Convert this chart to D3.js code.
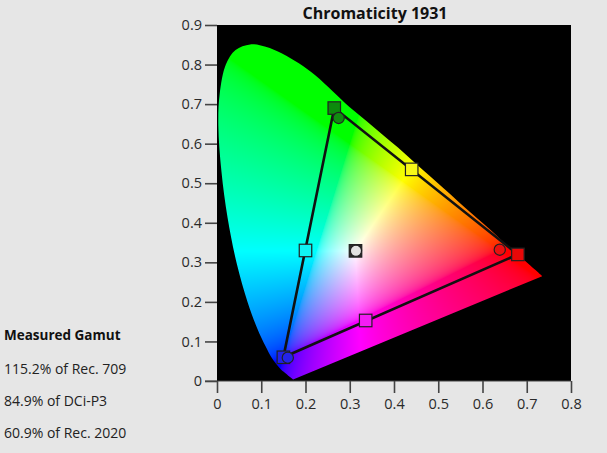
<!DOCTYPE html>
<html>
<head>
<meta charset="utf-8">
<script src="https://cdn.jsdelivr.net/npm/d3@7"></script>
<style>
  html, body { margin: 0; padding: 0; background: #e6e6e6; }
  svg { display: block; font-family: "Open Sans", "Noto Sans", sans-serif; }
</style>
</head>
<body>
<svg id="chart" width="607" height="453"></svg>
<script>
// ---------- data ----------
const chartTitle = "Chromaticity 1931";
const xTicks = [0, 0.1, 0.2, 0.3, 0.4, 0.5, 0.6, 0.7, 0.8];
const xTickLabels = ["0", "0.1", "0.2", "0.3", "0.4", "0.5", "0.6", "0.7", "0.8"];
const yTicks = [0, 0.1, 0.2, 0.3, 0.4, 0.5, 0.6, 0.7, 0.8, 0.9];
const yTickLabels = ["0", "0.1", "0.2", "0.3", "0.4", "0.5", "0.6", "0.7", "0.8", "0.9"];

// spectral locus (violet end -> red end)
const locusX = [0.172, 0.165, 0.157, 0.144, 0.124, 0.110, 0.091, 0.069, 0.045, 0.024, 0.010, 0.003, 0.006, 0.020, 0.042, 0.075, 0.110, 0.147, 0.185, 0.222, 0.262, 0.300, 0.337, 0.373, 0.409, 0.444, 0.479, 0.512, 0.545, 0.575, 0.603, 0.627, 0.648, 0.666, 0.692, 0.708, 0.719, 0.735];
const locusY = [0.004, 0.010, 0.018, 0.030, 0.058, 0.087, 0.133, 0.200, 0.295, 0.412, 0.530, 0.645, 0.725, 0.800, 0.837, 0.851, 0.845, 0.828, 0.803, 0.773, 0.732, 0.692, 0.658, 0.624, 0.590, 0.555, 0.520, 0.487, 0.454, 0.424, 0.397, 0.373, 0.351, 0.334, 0.308, 0.292, 0.281, 0.265];

// target (squares)
const targetNames = ["Red", "Green", "Blue", "Cyan", "Magenta", "Yellow", "White"];
const targetX = [0.680, 0.265, 0.150, 0.200, 0.336, 0.440, 0.313];
const targetY = [0.320, 0.690, 0.060, 0.330, 0.153, 0.535, 0.329];
// measured (circles)
const measuredNames = ["Red", "Green", "Blue", "White"];
const measuredX = [0.639, 0.275, 0.160, 0.314];
const measuredY = [0.332, 0.665, 0.059, 0.329];
// gamut triangle order
const triangleOrder = ["Green", "Blue", "Red"];

const gamutTitle = "Measured Gamut";
const gamutLines = ["115.2% of Rec. 709", "84.9% of DCi-P3", "60.9% of Rec. 2020"];

// ---------- styles ----------
const squareFill = { Red: "#e80808", Green: "#0c8a0c", Blue: "#2020e8", Cyan: "#10f4f4", Magenta: "#f41cf4", Yellow: "#f8f818", White: "#2a2a2a" };
const circleFill = { Red: "#ea1010", Green: "#108c10", Blue: "#2424ea", White: "#e2e2e2" };

// ---------- layout ----------
const svg = d3.select("#chart");
const x = d3.scaleLinear().domain([0, 0.8]).range([217, 571]);
const y = d3.scaleLinear().domain([0, 0.9]).range([381, 25]);

svg.append("rect").attr("width", 607).attr("height", 453).attr("fill", "#e6e6e6");

// plot background
svg.append("rect")
  .attr("x", x(0)).attr("y", y(0.9))
  .attr("width", x(0.8) - x(0)).attr("height", y(0) - y(0.9))
  .attr("fill", "#000");

// locus clip
const locus = locusX.map((v, i) => [v, locusY[i]]);
const locusLine = d3.line().x(d => x(d[0])).y(d => y(d[1])).curve(d3.curveCatmullRom.alpha(0.5));
const defs = svg.append("defs");
defs.append("clipPath").attr("id", "locusClip")
  .append("path").attr("d", locusLine(locus) + "Z");

// colour fill of the diagram (xy -> sRGB)
const W = Math.round(x(0.8) - x(0)), H = Math.round(y(0) - y(0.9));
const cv = document.createElement("canvas");
cv.width = W; cv.height = H;
const ctx = cv.getContext("2d");
const img = ctx.createImageData(W, H);
function gam(c) { return c <= 0.0031308 ? 12.92 * c : 1.055 * Math.pow(c, 1 / 2.4) - 0.055; }
for (let j = 0; j < H; j++) {
  const cy = y.invert(y(0.9) + j + 0.5);
  for (let i = 0; i < W; i++) {
    const cx = x.invert(x(0) + i + 0.5);
    let r = 0, g = 0, b = 0;
    if (cy > 0.0005) {
      const X = cx / cy, Y = 1, Z = (1 - cx - cy) / cy;
      r = 3.2406 * X - 1.5372 * Y - 0.4986 * Z;
      g = -0.9689 * X + 1.8758 * Y + 0.0415 * Z;
      b = 0.0557 * X - 0.2040 * Y + 1.0570 * Z;
      r = Math.max(r, 0); g = Math.max(g, 0); b = Math.max(b, 0);
      const m = Math.max(r, g, b) || 1;
      r /= m; g /= m; b /= m;
    }
    const k = (j * W + i) * 4;
    img.data[k] = Math.round(255 * gam(r));
    img.data[k + 1] = Math.round(255 * gam(g));
    img.data[k + 2] = Math.round(255 * gam(b));
    img.data[k + 3] = 255;
  }
}
ctx.putImageData(img, 0, 0);
svg.append("image")
  .attr("href", cv.toDataURL())
  .attr("x", x(0)).attr("y", y(0.9)).attr("width", W).attr("height", H)
  .attr("preserveAspectRatio", "none")
  .attr("clip-path", "url(#locusClip)");

// gamut triangle
const tri = triangleOrder.map(n => { const i = targetNames.indexOf(n); return [targetX[i], targetY[i]]; });
svg.append("path")
  .attr("d", d3.line().x(d => x(d[0])).y(d => y(d[1]))(tri) + "Z")
  .attr("fill", "none").attr("stroke", "#111").attr("stroke-width", 2.6).attr("stroke-linejoin", "miter");

// target squares
const sq = 12.5;
svg.append("g").selectAll("rect").data(targetNames).join("rect")
  .attr("x", (d, i) => x(targetX[i]) - sq / 2)
  .attr("y", (d, i) => y(targetY[i]) - sq / 2)
  .attr("width", sq).attr("height", sq)
  .attr("fill", d => squareFill[d])
  .attr("stroke", "#222").attr("stroke-width", 1.2);

// measured circles
svg.append("g").selectAll("circle").data(measuredNames).join("circle")
  .attr("cx", (d, i) => x(measuredX[i]))
  .attr("cy", (d, i) => y(measuredY[i]))
  .attr("r", 5.6)
  .attr("fill", d => circleFill[d])
  .attr("stroke", "#222").attr("stroke-width", 1.2);

// axes
const xAxis = d3.axisBottom(x).tickValues(xTicks).tickSize(12).tickPadding(6)
  .tickFormat((d, i) => xTickLabels[i]);
const yAxis = d3.axisLeft(y).tickValues(yTicks).tickSize(12).tickPadding(3)
  .tickFormat((d, i) => yTickLabels[i]);
const gx = svg.append("g").attr("transform", `translate(0,${y(0)})`).call(xAxis);
const gy = svg.append("g").attr("transform", `translate(${x(0)},0)`).call(yAxis);
[gx, gy].forEach(g => {
  g.select(".domain").remove();
  g.selectAll(".tick line").attr("stroke", "#444").attr("stroke-width", 1.6);
  g.selectAll(".tick text").attr("fill", "#2a2a2a").style("font-size", "14.5px")
    .style("font-family", "'Open Sans', 'Noto Sans', sans-serif");
});
svg.append("line").attr("x1", x(0) - 12).attr("x2", x(0.8)).attr("y1", y(0)).attr("y2", y(0))
  .attr("stroke", "#444").attr("stroke-width", 1.2);

// title
svg.append("text").attr("x", 375).attr("y", 19).attr("text-anchor", "middle")
  .style("font-size", "16px").style("font-weight", "bold").attr("fill", "#111")
  .text(chartTitle);

// gamut text
svg.append("text").attr("x", 4).attr("y", 340)
  .style("font-size", "13.5px").style("font-weight", "bold").attr("fill", "#111")
  .text(gamutTitle);
const gBase = [374, 406, 438];
svg.append("g").selectAll("text").data(gamutLines).join("text")
  .attr("x", 4).attr("y", (d, i) => gBase[i])
  .style("font-size", "14px").attr("fill", "#222")
  .text(d => d);
</script>
</body>
</html>
